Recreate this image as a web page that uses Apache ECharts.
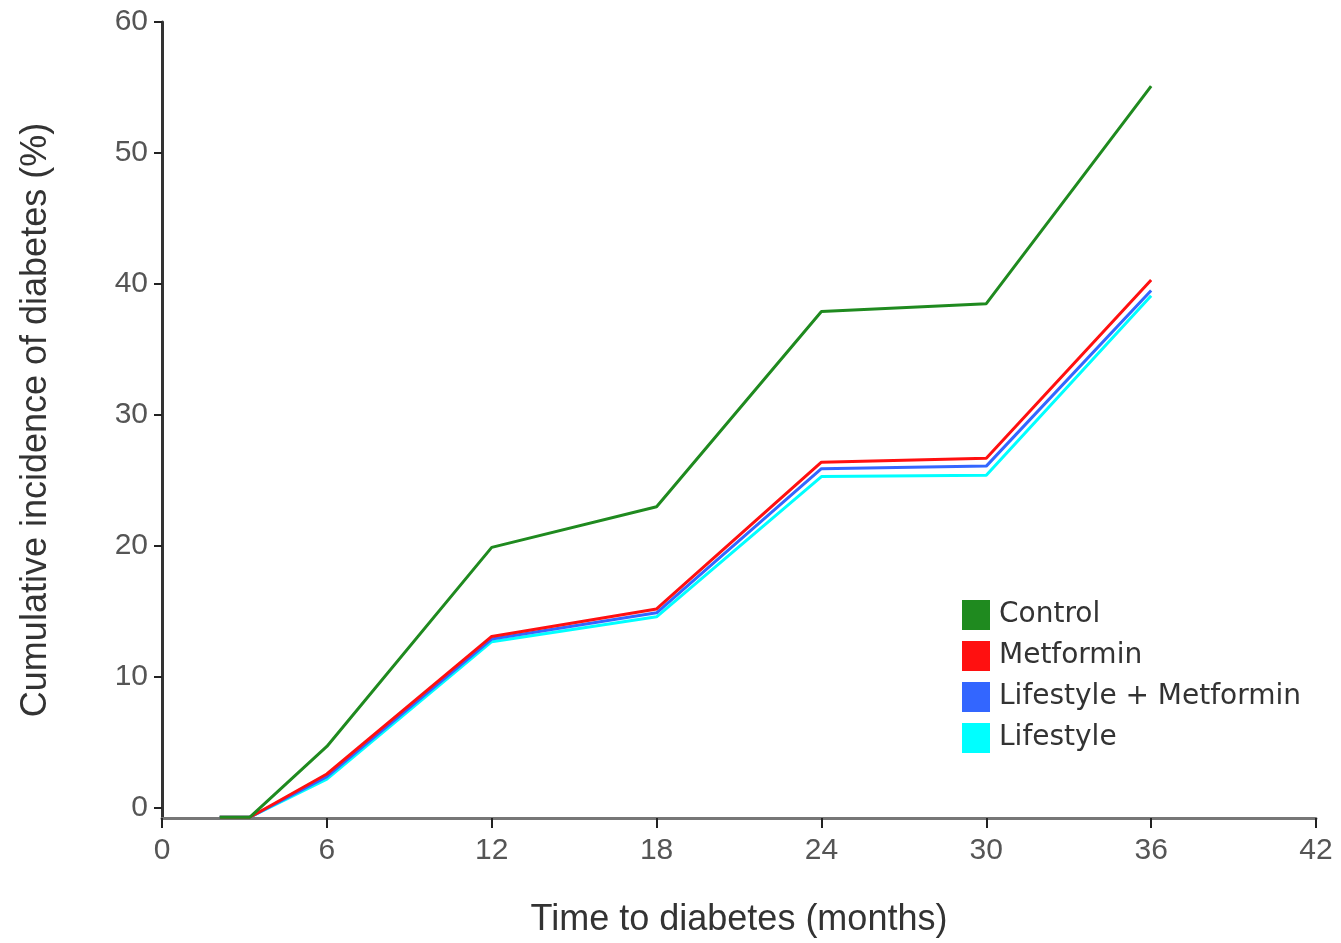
<!DOCTYPE html>
<html>
<head>
<meta charset="utf-8">
<script src="https://cdn.jsdelivr.net/npm/echarts@6/dist/echarts.min.js"></script>
<style>html,body{margin:0;padding:0;background:#fff;}#chart{width:1341px;height:943px;}</style>
</head>
<body>
<div id="chart"></div>
<script>
const months = [2.1, 3.2, 6, 12, 18, 24, 30, 36];
const control = [-0.7, -0.7, 4.7, 19.9, 23.0, 37.9, 38.5, 55.1];
const metformin = [-0.7, -0.7, 2.6, 13.1, 15.2, 26.4, 26.7, 40.3];
const lifestyleMetformin = [-0.7, -0.7, 2.4, 12.9, 14.9, 25.9, 26.1, 39.5];
const lifestyle = [-0.7, -0.7, 2.2, 12.7, 14.6, 25.3, 25.4, 39.1];
const yTicks = [0, 10, 20, 30, 40, 50, 60];
const seriesNames = ['Control', 'Metformin', 'Lifestyle + Metformin', 'Lifestyle'];

const pairs = v => months.map((m, i) => [m, v[i]]);
const chart = echarts.init(document.getElementById('chart'));
const mk = (name, vals, color, z) => ({
  name, type: 'line', data: pairs(vals), symbol: 'none', z,
  lineStyle: { color, width: 3 }, itemStyle: { color }
});
chart.setOption({
  animation: false,
  backgroundColor: '#fff',
  grid: { left: 162, right: 25, top: 22, bottom: 125, containLabel: false },
  legend: {
    data: seriesNames, orient: 'vertical', left: 962, top: 600, padding: 0,
    itemWidth: 28, itemHeight: 30, itemGap: 11,
    icon: 'rect',
    textStyle: { fontFamily: 'DejaVu Sans', fontSize: 28, color: '#333', padding: [2, 0, 0, 4] }
  },
  xAxis: {
    type: 'value', min: 0, max: 42, interval: 6,
    name: 'Time to diabetes (months)', nameLocation: 'middle', nameGap: 84,
    nameTextStyle: { fontFamily: 'Liberation Sans', fontSize: 36, color: '#333' },
    axisLine: { onZero: false, lineStyle: { color: '#777', width: 3 } },
    axisTick: { show: true, length: 10, lineStyle: { color: '#222', width: 2 } },
    axisLabel: { fontFamily: 'Liberation Sans', fontSize: 30, color: '#555', margin: 18 },
    splitLine: { show: false }
  },
  yAxis: {
    type: 'value', min: -0.76, max: 60,
    name: 'Cumulative incidence of diabetes (%)', nameLocation: 'middle', nameGap: 108,
    nameTextStyle: { fontFamily: 'Liberation Sans', fontSize: 36, color: '#333' },
    axisLine: { show: true, lineStyle: { color: '#333', width: 3 } },
    axisTick: { show: true, length: 8, customValues: yTicks, lineStyle: { color: '#222', width: 2 } },
    axisLabel: { fontFamily: 'Liberation Sans', fontSize: 30, color: '#555', margin: 14, customValues: yTicks },
    splitLine: { show: false }
  },
  series: [
    mk('Control', control, '#1f8a1f', 4),
    mk('Metformin', metformin, '#ff1010', 3),
    mk('Lifestyle + Metformin', lifestyleMetformin, '#3366ff', 2),
    mk('Lifestyle', lifestyle, '#00ffff', 1)
  ]
});
</script>
</body>
</html>
